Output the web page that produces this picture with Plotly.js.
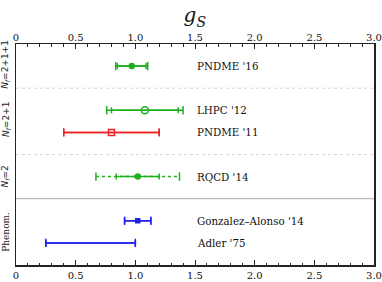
<!DOCTYPE html>
<html>
<head>
<meta charset="utf-8">
<script src="https://cdn.plot.ly/plotly-3.0.1.min.js"></script>
<style>html,body{margin:0;padding:0;background:#fff;}#chart{width:382px;height:282px;}</style>
</head>
<body>
<div id="chart"></div>
<script>
// Data
const labels   = ["PNDME '16", "LHPC '12", "PNDME '11", "RQCD '14", "Gonzalez\u2013Alonso '14", "Adler '75"];
const rows     = [9, 7, 6, 4, 2, 1];
const centers  = [0.97, 1.08, 0.80, 1.02, 1.02, 0.625];
const statErr  = [0.12, 0.28, 0.40, 0.18, 0.11, 0.375];
const totalErr = [0.134, 0.32, 0.40, 0.35, 0.11, 0.375];
const colors   = ["#1fb01f", "#1fb01f", "#ee2222", "#1fb01f", "#2222ee", "#2222ee"];
const symbols  = ["circle", "circle-open", "square-open", "circle", "square", null];
const msizes   = [5, 7, 6, 5, 4, 0];
const outerDash = ["solid", "solid", "solid", "dot", "solid", "solid"];
const groupNames = ["<i>N</i><sub><i>f</i></sub>=2+1+1", "<i>N</i><sub><i>f</i></sub>=2+1", "<i>N</i><sub><i>f</i></sub>=2", "Phenom."];
const groupCenters = [9.1, 6.6, 4.0, 1.5];
const dashedSeps = [8, 5];
const solidSeps = [3];
const tickVals = [0, 0.5, 1.0, 1.5, 2.0, 2.5, 3.0];
const tickText = ["0", "0.5", "1.0", "1.5", "2.0", "2.5", "3.0"];

const serif = "DejaVu Serif";
const traces = [];
for (let i = 0; i < labels.length; i++) {
  // outer (total) error line with caps
  traces.push({
    x: [centers[i] - totalErr[i], centers[i] + totalErr[i]],
    y: [rows[i], rows[i]],
    mode: "lines+markers",
    line: {color: colors[i], width: 1.5, dash: outerDash[i]},
    marker: {symbol: "line-ns-open", size: 6, line: {color: colors[i], width: 1.5}},
    hoverinfo: "skip", showlegend: false, xaxis: "x", yaxis: "y"
  });
  // central value with statistical error
  traces.push({
    x: [centers[i]], y: [rows[i]],
    mode: "markers",
    error_x: {type: "data", array: [statErr[i]], color: colors[i], thickness: 1.5, width: 3},
    marker: symbols[i] ? {symbol: symbols[i], size: msizes[i], color: colors[i], line: {color: colors[i], width: 1.5}}
                       : {size: 0.1, color: colors[i], opacity: 0},
    showlegend: false, xaxis: "x", yaxis: "y"
  });
}
// invisible trace for top axis
traces.push({x: [0, 3], y: [0, 0], mode: "markers", marker: {opacity: 0}, xaxis: "x2", yaxis: "y", showlegend: false, hoverinfo: "skip"});

const shapes = [];
dashedSeps.forEach(v => shapes.push({type: "line", xref: "paper", x0: 0, x1: 1, yref: "y", y0: v, y1: v, line: {color: "#d4d4d4", width: 1, dash: "3px,3px"}}));
solidSeps.forEach(v => shapes.push({type: "line", xref: "paper", x0: 0, x1: 1, yref: "y", y0: v, y1: v, line: {color: "#aaaaaa", width: 1}}));

const annotations = [];
labels.forEach((t, i) => annotations.push({x: 1.5, y: rows[i], xref: "x", yref: "y", text: t, showarrow: false, xanchor: "left", yanchor: "middle", font: {family: serif, size: 10.3, color: "#111"}}));
groupNames.forEach((t, i) => annotations.push({x: -0.028, y: groupCenters[i], xref: "paper", yref: "y", text: t, showarrow: false, textangle: -90, xanchor: "center", yanchor: "middle", font: {family: i === 3 ? serif : "DejaVu Sans", size: 9, color: "#222"}}));

const axisCommon = {
  range: [0, 3], tickmode: "array", tickvals: tickVals, ticktext: tickText,
  ticks: "inside", ticklen: 5, tickwidth: 1, tickcolor: "#222",
  minor: {dtick: 0.1, ticks: "inside", ticklen: 2.5, tickwidth: 1, tickcolor: "#222"},
  showgrid: false, zeroline: false,
  tickfont: {family: serif, size: 10, color: "#111"}
};

const layout = {
  width: 382, height: 282,
  margin: {l: 16, r: 8, t: 44, b: 17, pad: 0},
  paper_bgcolor: "#fff", plot_bgcolor: "#fff",
  title: {text: "<i>g</i><sub><i>S</i></sub>", font: {family: serif, size: 20, color: "#111"}, x: 0.51, xanchor: "center", y: 0.97, yanchor: "top"},
  xaxis: Object.assign({}, axisCommon, {side: "bottom", showline: true, linecolor: "#222", linewidth: 1.5, mirror: "ticks"}),
  xaxis2: Object.assign({}, axisCommon, {side: "top", overlaying: "x", showline: false, ticks: "", minor: {ticks: ""}}),
  yaxis: {range: [0, 10], showticklabels: false, ticks: "", showgrid: false, zeroline: false, showline: true, linecolor: "#222", linewidth: 1.5, mirror: true},
  shapes: shapes, annotations: annotations
};

Plotly.newPlot("chart", traces, layout, {staticPlot: true, displayModeBar: false});
</script>
</body>
</html>
